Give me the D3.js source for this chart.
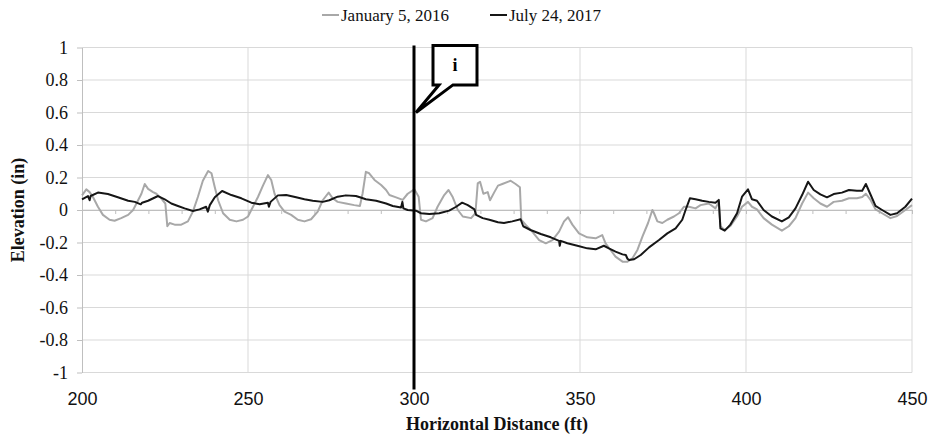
<!DOCTYPE html>
<html><head><meta charset="utf-8">
<script src="https://cdn.jsdelivr.net/npm/d3@7"></script>
<style>
html,body{margin:0;padding:0;background:#fff;}
svg{display:block;}
</style></head>
<body>
<svg id="chart" width="928" height="436"></svg>
<script>
// ---- data ----
const seriesNames = ["January 5, 2016", "July 24, 2017"];
const janX = [200,201.3,202.3,203.3,204.8,206.3,208.3,209.8,211.8,213.9,215.4,216.9,217.9,218.9,219.9,221.4,222.4,223.9,225.1,225.7,226.4,227.9,229.9,231.9,233.4,234.9,236.4,238.0,239.0,240.0,241.0,242.5,244.5,246.5,248.5,250.0,251.5,253.0,254.5,256.0,257.0,258.0,259.5,261.0,263.0,265.0,267.0,269.0,271.0,272.5,274.3,275.5,277.0,279.5,282.0,283.7,284.5,285.5,286.5,288.1,290.1,291.6,292.6,294.6,296.6,298.1,300.1,301.4,302.1,303.6,305.6,307.1,309.1,310.4,311.6,313.2,314.7,317.2,318.5,319.2,319.9,320.9,322.2,322.9,324.2,325.3,326.6,329.1,330.6,331.9,332.3,333.6,335.6,337.7,339.7,341.7,343.7,345.2,346.4,347.7,349.7,352.2,354.7,356.7,357.7,359.2,360.7,362.8,364.3,365.8,367.3,368.8,370.5,371.8,372.3,373.3,374.8,376.3,378.3,379.8,381.3,382.8,384.8,386.3,388.8,390.8,391.8,392.3,393.6,395.3,397.3,398.8,400.6,401.8,403.3,405.3,407.8,410.8,412.9,414.9,416.9,418.7,420.4,422.4,424.4,426.4,428.9,431.0,433.4,435.0,436.1,437.4,439.0,441.0,443.5,445.5,448.0,450];
const janY = [0.09,0.127,0.11,0.08,0.02,-0.03,-0.06,-0.066,-0.05,-0.03,0,0.06,0.10,0.16,0.13,0.11,0.10,0.07,0.04,-0.10,-0.08,-0.09,-0.09,-0.07,-0.01,0.08,0.18,0.24,0.226,0.14,0.06,-0.02,-0.06,-0.07,-0.06,-0.04,0.02,0.08,0.15,0.215,0.185,0.10,0.03,-0.01,-0.03,-0.06,-0.07,-0.057,-0.01,0.06,0.107,0.072,0.05,0.04,0.03,0.025,0.10,0.235,0.226,0.185,0.154,0.123,0.092,0.078,0.062,0.10,0.127,0.082,-0.06,-0.07,-0.05,0.02,0.092,0.123,0.082,0,-0.04,-0.05,-0.02,0.164,0.174,0.10,0.11,0.06,0.11,0.15,0.16,0.18,0.16,0.14,-0.06,-0.09,-0.133,-0.185,-0.205,-0.185,-0.133,-0.07,-0.045,-0.09,-0.144,-0.168,-0.174,-0.154,-0.205,-0.246,-0.287,-0.318,-0.318,-0.297,-0.246,-0.164,-0.08,0,-0.02,-0.07,-0.08,-0.06,-0.04,-0.02,0.02,0.02,0.01,0.03,0.04,0.01,0.05,-0.10,-0.123,-0.098,-0.04,0.02,0.05,0.02,0.004,-0.05,-0.09,-0.127,-0.10,-0.05,0.04,0.107,0.072,0.04,0.02,0.05,0.057,0.072,0.072,0.08,0.10,0.066,0.004,-0.02,-0.05,-0.037,0,0.03];
const julX = [200,201.8,202.3,202.6,204.8,207.8,210.8,213.9,215.9,217.7,218.1,219.9,222.9,224.9,226.9,228.9,230.9,233.4,235.4,237.4,237.9,238.5,240.0,242.2,245.0,248.0,251.0,253.5,256.0,256.3,256.8,259.0,261.5,264.5,267.0,269.5,272.5,274.5,277.0,279.5,282.5,283.7,285.5,288.6,291.6,293.6,296.1,296.5,296.8,298.1,300.6,302.1,304.6,307.6,310.6,312.7,314.5,316.2,318.2,318.7,320.7,322.7,325.3,327.1,329.6,332.1,332.9,335.1,338.2,341.2,343.7,343.9,344.2,346.2,349.2,352.2,354.7,357.2,358.7,360.7,362.8,363.8,364.3,364.8,366.3,368.3,370.8,373.8,376.3,378.8,380.8,381.8,383.1,384.8,386.8,388.8,390.8,391.8,392.3,393.6,395.3,397.3,398.8,400.6,401.8,403.3,405.3,407.8,410.8,412.9,414.9,416.9,418.7,420.4,422.4,424.4,426.4,428.9,431.0,433.4,435.0,436.1,437.4,439.0,441.0,443.5,445.5,448.0,450];
const julY = [0.066,0.086,0.06,0.086,0.107,0.098,0.078,0.057,0.05,0.035,0.045,0.057,0.086,0.066,0.04,0.025,0.01,-0.006,0.004,0.02,-0.01,0.03,0.078,0.117,0.092,0.072,0.045,0.035,0.045,0.02,0.05,0.09,0.092,0.078,0.066,0.057,0.05,0.06,0.082,0.09,0.086,0.078,0.066,0.057,0.04,0.025,0.016,0.05,0.01,0,-0.004,-0.02,-0.025,-0.02,-0.004,0.02,0.045,0.03,0.004,-0.03,-0.05,-0.06,-0.075,-0.08,-0.07,-0.057,-0.10,-0.123,-0.148,-0.168,-0.19,-0.22,-0.19,-0.205,-0.22,-0.236,-0.242,-0.22,-0.236,-0.256,-0.273,-0.277,-0.30,-0.308,-0.303,-0.277,-0.23,-0.185,-0.144,-0.113,-0.06,0,0.072,0.066,0.057,0.05,0.045,0.062,-0.113,-0.127,-0.09,-0.02,0.082,0.127,0.066,0.057,0,-0.04,-0.07,-0.045,0.01,0.092,0.174,0.123,0.096,0.078,0.098,0.107,0.123,0.119,0.119,0.16,0.10,0.025,0,-0.03,-0.02,0.02,0.07];
const xTicks = [200,250,300,350,400,450];
const xMinorTicks = [200,210,220,230,240,250,260,270,280,290,300,310,320,330,340,350,360,370,380,390,400,410,420,430,440,450];
const yTicks = [-1,-0.8,-0.6,-0.4,-0.2,0,0.2,0.4,0.6,0.8,1];
const yTickLabels = ["-1","-0.8","-0.6","-0.4","-0.2","0","0.2","0.4","0.6","0.8","1"];
const markerX = 300;
const markerLabel = "i";
const xTitle = "Horizontal Distance (ft)";
const yTitle = "Elevation (in)";

// ---- drawing ----
const svg = d3.select("#chart");
const x = d3.scaleLinear().domain([200,450]).range([82,912]);
const y = d3.scaleLinear().domain([-1,1]).range([372.5,47.5]);
const gridCol = "#d9d9d9";
const serif = "'Liberation Serif','Times New Roman',serif";

// horizontal gridlines
svg.append("g").selectAll("line").data(yTicks).join("line")
  .attr("x1", x(200)).attr("x2", x(450))
  .attr("y1", d => y(d)).attr("y2", d => y(d))
  .attr("stroke", gridCol).attr("stroke-width", 1);
// vertical gridlines
svg.append("g").selectAll("line").data(xTicks.slice(1)).join("line")
  .attr("x1", d => x(d)).attr("x2", d => x(d))
  .attr("y1", y(1)).attr("y2", y(-1))
  .attr("stroke", gridCol).attr("stroke-width", 1);

// y axis
const yAxis = d3.axisLeft(y).tickValues(yTicks)
  .tickFormat((d,i) => yTickLabels[i]).tickSizeInner(5).tickSizeOuter(0).tickPadding(9);
const gy = svg.append("g").attr("transform", `translate(${x(200)},0)`).call(yAxis)
  .attr("font-family", serif).attr("font-size", 18);
gy.select(".domain").attr("stroke", "#bfbfbf");
gy.selectAll(".tick line").attr("stroke", "#bfbfbf");
gy.selectAll("text").style("font-family", serif).style("font-size", "18px").attr("fill", "#111");

// x axis at zero with minor ticks
const xAxis0 = d3.axisBottom(x).tickValues(xMinorTicks).tickFormat("").tickSizeInner(4).tickSizeOuter(0);
const gx0 = svg.append("g").attr("transform", `translate(0,${y(0)})`).call(xAxis0);
gx0.select(".domain").attr("stroke", "#bfbfbf");
gx0.selectAll(".tick line").attr("stroke", "#bfbfbf");

// x labels at bottom
const xAxisL = d3.axisBottom(x).tickValues(xTicks).tickSize(0).tickPadding(20);
const gxl = svg.append("g").attr("transform", `translate(0,${y(-1)})`).call(xAxisL);
gxl.select(".domain").remove();
gxl.selectAll("text").style("font-family", "'Liberation Sans Narrow','Arial Narrow','Liberation Sans',sans-serif")
  .style("font-size", "18px").attr("fill", "#111");

// series
const line = d3.line().x(d => x(d[0])).y(d => y(d[1]));
const janData = janX.map((v,i) => [v, janY[i]]);
const julData = julX.map((v,i) => [v, julY[i]]);
svg.append("path").datum(janData).attr("d", line)
  .attr("fill", "none").attr("stroke", "#a8a8a8").attr("stroke-width", 2).attr("stroke-linejoin", "round");
svg.append("path").datum(julData).attr("d", line)
  .attr("fill", "none").attr("stroke", "#161616").attr("stroke-width", 2).attr("stroke-linejoin", "round");

// marker line
const mx = x(markerX);
svg.append("line").attr("x1", mx).attr("x2", mx).attr("y1", y(1) - 2).attr("y2", y(-1) + 17)
  .attr("stroke", "#000").attr("stroke-width", 3);

// callout
const bx0 = mx + 19, bx1 = mx + 63, by0 = y(1) - 2, by1 = y(0.77);
const tip = [mx + 2, y(0.6)];
svg.append("path")
  .attr("d", `M${bx0},${by0} H${bx1} V${by1} H${bx0 + 20} L${tip[0]},${tip[1]} L${bx0 + 6},${by1} H${bx0} Z`)
  .attr("fill", "#fff").attr("stroke", "#000").attr("stroke-width", 3).attr("stroke-linejoin", "miter");
svg.append("text").attr("x", (bx0 + bx1) / 2).attr("y", (by0 + by1) / 2 + 6)
  .attr("text-anchor", "middle").attr("font-family", serif).attr("font-weight", "bold")
  .attr("font-size", 18).text(markerLabel);

// axis titles
svg.append("text").attr("x", (x(200) + x(450)) / 2).attr("y", 430)
  .attr("text-anchor", "middle").attr("font-family", serif).attr("font-weight", "bold")
  .attr("font-size", 18).attr("fill", "#111").text(xTitle);
svg.append("text").attr("transform", `translate(24,${(y(1) + y(-1)) / 2}) rotate(-90)`)
  .attr("text-anchor", "middle").attr("font-family", serif).attr("font-weight", "bold")
  .attr("font-size", 18).attr("fill", "#111").text(yTitle);

// legend
const legend = svg.append("g").attr("font-family", serif).attr("font-size", 17);
const legItems = [
  {name: seriesNames[0], color: "#a8a8a8", x: 322},
  {name: seriesNames[1], color: "#161616", x: 490}
];
legItems.forEach(it => {
  legend.append("line").attr("x1", it.x).attr("x2", it.x + 17).attr("y1", 15).attr("y2", 15)
    .attr("stroke", it.color).attr("stroke-width", 2);
  legend.append("text").attr("x", it.x + 19).attr("y", 21).attr("fill", "#111").text(it.name);
});
</script>
</body></html>
